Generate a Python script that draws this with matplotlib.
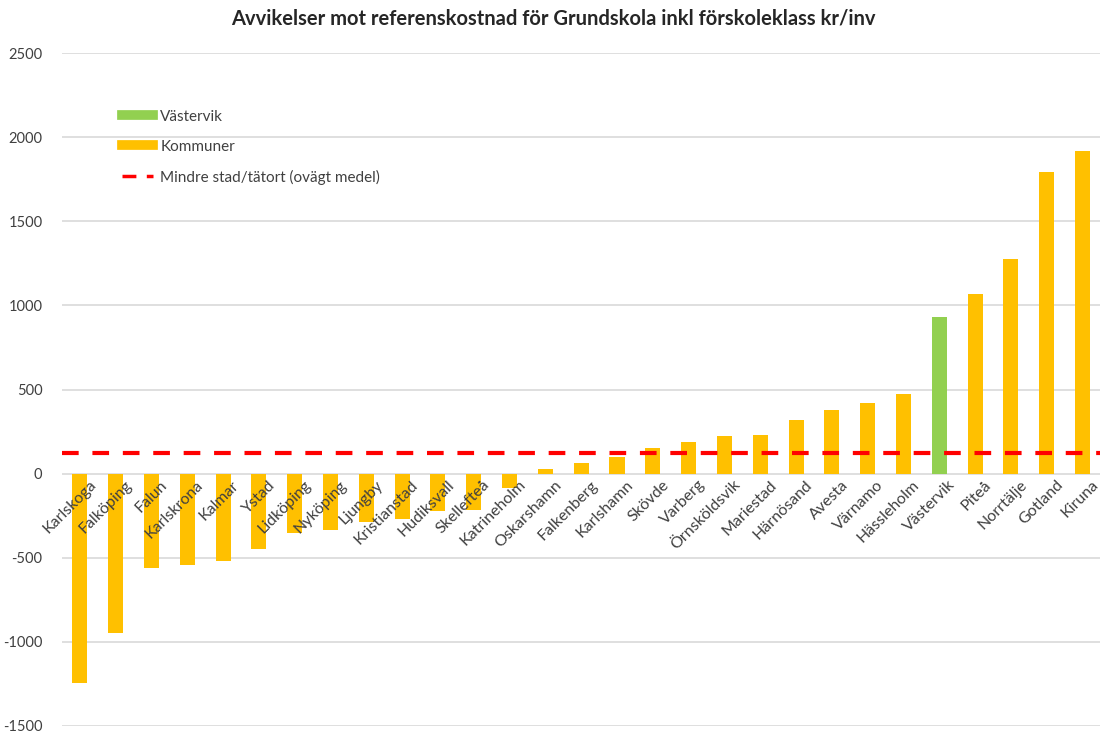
import matplotlib
matplotlib.use("Agg")
import matplotlib.pyplot as plt
from matplotlib.lines import Line2D

plt.rcParams["font.family"] = ["Lato", "DejaVu Sans"]
plt.rcParams["axes.unicode_minus"] = False

# data
kommuner = ["Karlskoga", "Falköping", "Falun", "Karlskrona", "Kalmar", "Ystad",
            "Lidköping", "Nyköping", "Ljungby", "Kristianstad", "Hudiksvall",
            "Skellefteå", "Katrineholm", "Oskarshamn", "Falkenberg", "Karlshamn",
            "Skövde", "Varberg", "Örnsköldsvik", "Mariestad", "Härnösand", "Avesta",
            "Värnamo", "Hässleholm", "Västervik", "Piteå", "Norrtälje", "Gotland",
            "Kiruna"]
avvikelse = [-1244, -948, -563, -545, -518, -450, -355, -336, -288, -268, -221,
             -215, -83, 25, 62, 98, 152, 185, 221, 227, 317, 380, 417, 476, 930,
             1065, 1275, 1793, 1918]
referens_medel = 125
markerad = "Västervik"

ORANGE = "#FFC000"
GREEN = "#92D050"
GRID = "#D9D9D9"
TEXT = "#404040"

fig = plt.figure(figsize=(11.06, 7.37), dpi=100)
ax = fig.add_axes([0.056, 0.015, 0.939, 0.913])

x = list(range(len(kommuner)))
colors = [GREEN if k == markerad else ORANGE for k in kommuner]
ax.bar(x, avvikelse, width=0.42, color=colors, zorder=2)
ax.axhline(referens_medel, color="#FF0000", lw=3, dashes=(4, 3.3), zorder=3)

ax.set_xlim(-0.5, len(kommuner) - 0.5)
ax.set_ylim(-1500, 2500)
ax.set_yticks(range(-1500, 2501, 500))
ax.yaxis.grid(True, color=GRID, lw=1.2, zorder=0)
ax.tick_params(axis="y", length=0, labelsize=10.5, labelcolor=TEXT, pad=14)
ax.set_xticks([])
for s in ax.spines.values():
    s.set_visible(False)

for i, k in enumerate(kommuner):
    ax.text(i + 0.25, -25, k, rotation=45, rotation_mode="anchor",
            ha="right", va="top", fontsize=11.5, color=TEXT, zorder=4)

handles = [
    Line2D([0], [0], color=GREEN, lw=7),
    Line2D([0], [0], color=ORANGE, lw=7),
    Line2D([0], [0], color="#FF0000", lw=2.5, dashes=(4, 3)),
]
fig.legend(handles, [markerad, "Kommuner", "Mindre stad/tätort (ovägt medel)"],
           loc="upper left", bbox_to_anchor=(0.098, 0.87), frameon=False,
           fontsize=11, labelcolor=TEXT, handlelength=2.0, handletextpad=0.5,
           labelspacing=1.05)

fig.suptitle("Avvikelser mot referenskostnad för Grundskola inkl förskoleklass kr/inv",
             y=0.988, fontsize=14.5, fontweight="bold", color="#262626")

fig.savefig("out.png", dpi=100)
